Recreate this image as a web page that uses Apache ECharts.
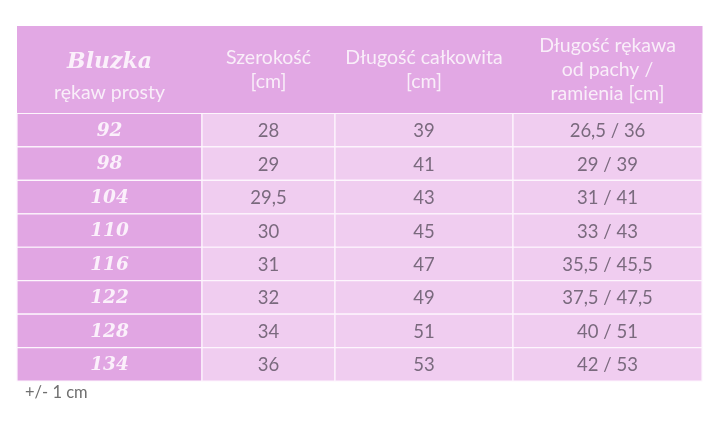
<!DOCTYPE html>
<html><head><meta charset="utf-8">
<script src="https://cdn.jsdelivr.net/npm/echarts@6/dist/echarts.min.js"></script>
<style>html,body{margin:0;padding:0;background:#fff}#c{width:721px;height:426px}</style>
</head><body><div id="c"></div>
<script>
const columns = ['Bluzka|rękaw prosty', 'Szerokość\n[cm]', 'Długość całkowita\n[cm]', 'Długość rękawa\nod pachy /\nramienia [cm]'];
const sizes = ['92','98','104','110','116','122','128','134'];
const widths = ['28','29','29,5','30','31','32','34','36'];
const lengths = ['39','41','43','45','47','49','51','53'];
const sleeves = ['26,5 / 36','29 / 39','31 / 41','33 / 43','35,5 / 45,5','37,5 / 47,5','40 / 51','42 / 53'];
const note = '+/- 1 cm';

// layout (not data)
const colEdges = [0, 185, 318, 496, 685];
const headerH = 87.5, rowH = 33.44;
const totalH = headerH + rowH * sizes.length;

const cells = [];
columns.forEach((t, c) => cells.push({ value: [c, -1], label: t }));
const cols = [sizes, widths, lengths, sleeves];
sizes.forEach((_, r) => {
  cols.forEach((arr, c) => cells.push({ value: [c, r], label: arr[r] }));
});

const FONT = 'Lato, "Open Sans", sans-serif';
const SCRIPT = '"DejaVu Serif", serif';

function renderItem(params, api) {
  const c = api.value(0), r = api.value(1);
  const item = cells[params.dataIndex];
  const x0 = colEdges[c], x1 = colEdges[c + 1];
  const y0 = r < 0 ? 0 : headerH + r * rowH;
  const y1 = r < 0 ? headerH : y0 + rowH;
  const p0 = api.coord([x0, y0]), p1 = api.coord([x1, y1]);
  const w = p1[0] - p0[0], h = p1[1] - p0[1];
  const cx = p0[0] + w / 2, cy = p0[1] + h / 2;
  const children = [];
  if (r < 0) {
    children.push({ type: 'rect', shape: { x: p0[0], y: p0[1], width: w + 0.5, height: h }, style: { fill: '#e2a8e4' } });
    if (c === 0) {
      const parts = item.label.split('|');
      children.push({ type: 'text', style: {
        x: cx, y: cy + 8, align: 'center', verticalAlign: 'middle',
        text: '{a|' + parts[0] + '}\n{b|' + parts[1] + '}',
        rich: {
          a: { fontFamily: SCRIPT, fontStyle: 'italic', fontWeight: 'bold', fontSize: 22, fill: '#fbf0fb', lineHeight: 30 },
          b: { fontFamily: FONT, fontSize: 19.5, fill: '#f9eef9', lineHeight: 30 }
        }
      }});
    } else {
      children.push({ type: 'text', style: {
        x: cx, y: cy, align: 'center', verticalAlign: 'middle', text: item.label,
        fontFamily: FONT, fontSize: 19.5, fill: '#f9eef9', lineHeight: 24
      }});
    }
  } else {
    const first = c === 0;
    children.push({ type: 'rect', shape: { x: p0[0], y: p0[1], width: w, height: h },
      style: { fill: first ? '#e1a6e3' : '#f0cdf0', stroke: '#fdf6fd', lineWidth: 1.2 } });
    children.push({ type: 'text', style: {
      x: cx, y: cy + 1, align: 'center', verticalAlign: 'middle', text: item.label,
      fontFamily: first ? SCRIPT : FONT,
      fontStyle: first ? 'italic' : 'normal',
      fontWeight: first ? 'bold' : 'normal',
      fontSize: 18.5,
      fill: first ? '#fbf0fb' : '#7a6a7e'
    }});
  }
  return { type: 'group', children };
}

const chart = echarts.init(document.getElementById('c'));
chart.setOption({
  animation: false,
  grid: { left: 17, top: 26, width: 685, height: totalH },
  xAxis: { type: 'value', min: 0, max: colEdges[colEdges.length - 1], show: false },
  yAxis: { type: 'value', min: 0, max: totalH, inverse: true, show: false },
  graphic: [{ type: 'text', left: 25, top: 384, style: { text: note, fontFamily: FONT, fontSize: 16.5, fill: '#6f6f6f' } }],
  series: [{ type: 'custom', renderItem, data: cells.map(d => d.value), clip: false }]
});
</script></body></html>
